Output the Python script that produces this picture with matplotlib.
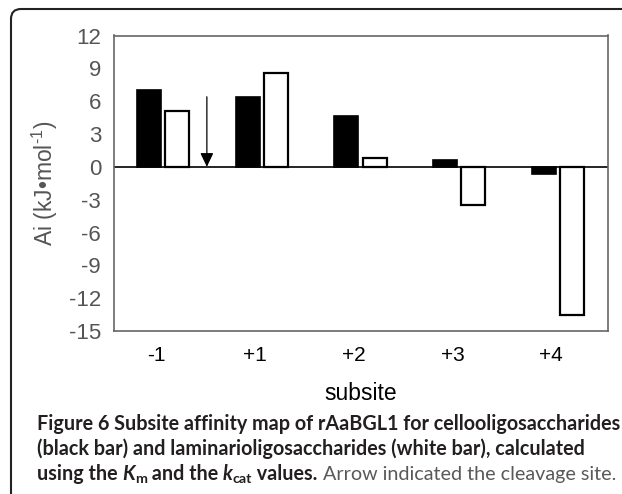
import matplotlib
matplotlib.use('Agg')
import matplotlib.pyplot as plt
import numpy as np
from matplotlib.patches import FancyBboxPatch
from matplotlib.transforms import IdentityTransform

# ---------------- data ----------------
categories = ['-1', '+1', '+2', '+3', '+4']
cello = [7.05, 6.4, 4.65, 0.6, -0.7]        # black bars (cellooligosaccharides)
lamin = [5.1, 8.55, 0.85, -3.45, -13.5]     # white bars (laminarioligosaccharides)
yticks = [-15, -12, -9, -6, -3, 0, 3, 6, 9, 12]
cleavage_x = 0.445                           # between -1 and +1
cleavage_top = 6.4

W, H = 622, 494
plt.rcParams['font.family'] = ['Liberation Sans', 'DejaVu Sans']
plt.rcParams['axes.unicode_minus'] = False
plt.rcParams['mathtext.fontset'] = 'custom'
plt.rcParams['mathtext.rm'] = 'Liberation Sans'
plt.rcParams['mathtext.it'] = 'Liberation Sans:italic'
plt.rcParams['mathtext.bf'] = 'Liberation Sans:bold'

fig = plt.figure(figsize=(W / 100, H / 100), dpi=100)
ax = fig.add_axes([113.5 / W, 1 - 331 / H, (607.5 - 113.5) / W, (331 - 35.5) / H])

x = np.arange(len(categories))
bw = 0.243
off = 0.143
ax.bar(x - off, cello, bw, color='black', edgecolor='black', lw=1.2, zorder=3)
ax.bar(x + off, lamin, bw, color='white', edgecolor='black', lw=1.6, zorder=3)
ax.axhline(0, color='black', lw=1.2, zorder=2)

ax.annotate('', xy=(cleavage_x, 0), xytext=(cleavage_x, cleavage_top),
            arrowprops=dict(arrowstyle='-|>,head_length=0.42,head_width=0.2',
                            color='black', lw=0.9, mutation_scale=20,
                            shrinkA=0, shrinkB=0), zorder=4)

ax.set_xlim(-0.5, len(categories) - 0.5)
ax.set_ylim(-15, 12)
ax.set_yticks(yticks)
ax.set_xticks(x - 0.07)
ax.set_xticklabels(categories)
ax.tick_params(axis='y', length=0, pad=9, labelsize=16, labelcolor='#555555')
ax.tick_params(axis='x', length=0, pad=11, labelsize=15, labelcolor='black')
for sp in ax.spines.values():
    sp.set_color('#666666')
    sp.set_linewidth(1.2)

ax.set_xlabel('subsite', fontsize=16.5, color='black', labelpad=12)
ax.set_ylabel('Ai (kJ\u2022mol$^{\\text{-1}}$)', fontsize=16.5, color='#555555')
ax.yaxis.set_label_coords(-0.108, 0.5)

# rounded border box
box = FancyBboxPatch((11, -30), 700, (H - 9) + 30,
                     boxstyle='round,pad=0,rounding_size=10',
                     transform=IdentityTransform(), fill=False,
                     ec='#222222', lw=1.5)
fig.add_artist(box)

# ---------------- caption ----------------
renderer = fig.canvas.get_renderer()
cap_font = 'Lato'
dark = '#231f20'
grey = '#58595b'


def text_width(s, size, weight='normal', style='normal'):
    t = fig.text(0, 0, 'x' + s + 'x', fontsize=size, family=cap_font,
                 weight=weight, style=style)
    t2 = fig.text(0, 0, 'xx', fontsize=size, family=cap_font,
                  weight=weight, style=style)
    w = t.get_window_extent(renderer).width - t2.get_window_extent(renderer).width
    t.remove()
    t2.remove()
    return w


line1 = 'Figure 6 Subsite affinity map of rAaBGL1 for cellooligosaccharides'
x0 = 37
target = 615 - x0
w12 = text_width(line1, 12, 'bold')
fs = 12 * target / w12


def draw_line(pieces, ybase):
    xp = x0
    for s, kw in pieces:
        size = fs * kw.get('scale', 1.0)
        dy = kw.get('dy', 0) * fs
        weight = kw.get('weight', 'bold')
        style = kw.get('style', 'normal')
        color = kw.get('color', dark)
        fig.text(xp / W, (H - ybase - dy) / H, s, fontsize=size, family=cap_font,
                 weight=weight, style=style, color=color, va='baseline', ha='left')
        xp += text_width(s, size, weight, style)


draw_line([(line1, {})], 430)
draw_line([('(black bar) and laminarioligosaccharides (white bar), calculated', {})], 455)
draw_line([
    ('using the ', {}),
    ('K', {'style': 'italic'}),
    ('m', {'scale': 0.72, 'dy': 0.22}),
    (' and the ', {}),
    ('k', {'style': 'italic'}),
    ('cat', {'scale': 0.72, 'dy': 0.22}),
    (' values.', {}),
    (' Arrow indicated the cleavage site.', {'weight': 'normal', 'color': grey}),
], 480)

fig.savefig('out.png', dpi=100)
